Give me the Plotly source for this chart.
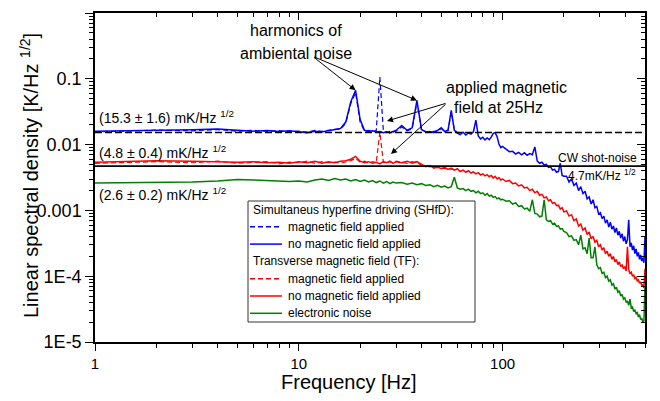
import math
import plotly.graph_objects as go

# ---------------- data (values in mK/Hz^1/2) ----------------
F1 = list(range(1, 31))          # 1 Hz bins
F2 = list(range(32, 101, 2))     # 2 Hz bins
F3 = list(range(104, 201, 4))    # 4 Hz bins
F4 = list(range(206, 501, 6))    # 6 Hz bins
FREQ = F1 + F2 + F3 + F4
FREQ_LOW = F1 + F2[:15]          # 1 .. 60 Hz

SHFD_NO_FIELD = [
    16.0, 16.3, 16.8, 17.2, 16.5, 16.0, 16.4, 15.8, 16.2, 15.6,
    15.2, 16.0, 15.5, 16.3, 16.8, 17.5, 22.0, 45.0, 67.0, 24.0,
    16.5, 15.8, 16.2, 15.5, 15.8, 15.2, 15.6, 15.0, 15.8, 16.4,
    19.5, 16.5, 18.0, 47.0, 17.0, 15.5, 15.8, 15.2, 16.5, 18.0,
    15.8, 16.5, 33.0, 16.5, 15.0, 14.2, 15.4, 14.0, 15.0, 14.4,
    15.8, 23.5, 13.5, 12.2, 12.9, 11.8, 12.6, 11.9, 13.0, 14.8,
    15.2, 13.2, 10.2, 9.0, 9.4,
    8.4, 7.8, 7.9, 7.2, 7.6, 7.0, 7.5, 6.9, 7.3, 7.0,
    9.2, 5.6, 5.2, 5.4, 4.9, 5.0, 4.5, 4.6, 4.1, 4.2,
    3.8, 3.9, 5.2, 3.4, 3.3,
    3.3, 2.7, 3.0, 2.4, 2.6, 2.0, 2.3, 1.8, 1.95, 1.5,
    1.6, 1.25, 1.45, 1.1, 1.15, 0.88, 0.92, 0.75, 0.82, 0.64,
    0.72, 0.56, 0.66, 0.52, 0.58, 0.46, 0.54, 0.42, 0.48, 0.38,
    0.44, 0.34, 0.40, 0.31, 0.36, 0.72, 0.28, 0.32, 0.25, 0.29,
    0.22, 0.26, 0.20, 0.23, 0.18, 0.21, 0.17, 0.19, 0.16, 0.40,
]

SHFD_FIELD = [
    15.6, 16.6, 16.2, 16.9, 16.0, 16.5, 15.9, 16.3, 15.7, 16.1,
    15.5, 16.4, 15.9, 16.6, 17.0, 17.2, 21.0, 42.0, 62.0, 22.0,
    16.0, 16.4, 15.8, 16.4, 106.0, 16.3, 15.4, 15.9, 15.5, 16.0,
    18.5, 16.2, 17.5, 44.0, 16.8, 15.8, 15.3, 15.9, 16.2, 17.5,
    16.0, 16.2, 31.0, 16.8, 15.2,
]

TF_NO_FIELD = [
    5.4, 5.7, 5.6, 5.5, 5.4, 5.5, 5.3, 5.4, 5.2, 5.5,
    5.3, 5.6, 5.2, 5.5, 5.3, 5.6, 5.7, 6.0, 6.6, 5.6,
    5.3, 5.5, 5.2, 5.4, 5.1, 5.5, 5.3, 5.6, 5.2, 5.5,
    5.3, 5.6, 5.2, 5.5, 5.0, 4.6, 4.8, 4.4, 4.6, 4.3,
    4.5, 4.2, 4.4, 4.1, 4.3, 3.9, 4.1, 3.8, 4.0, 3.7,
    3.85, 3.6, 3.75, 3.45, 3.6, 3.35, 3.5, 3.25, 3.4, 3.1,
    3.3, 3.0, 3.15, 2.9, 3.0,
    2.75, 2.85, 2.55, 2.6, 2.35, 2.45, 2.2, 2.25, 2.0, 2.1,
    1.85, 1.95, 1.7, 1.75, 1.55, 1.6, 1.4, 1.45, 1.28, 1.32,
    1.18, 1.2, 1.05, 1.1, 0.95,
    0.98, 0.82, 0.86, 0.70, 0.74, 0.58, 0.62, 0.50, 0.54, 0.43,
    0.47, 0.37, 0.40, 0.33, 0.35, 0.28, 0.30, 0.25, 0.27, 0.22,
    0.24, 0.20, 0.22, 0.18, 0.20, 0.165, 0.18, 0.15, 0.165, 0.14,
    0.15, 0.13, 0.14, 0.12, 0.28, 0.125, 0.11, 0.115, 0.10, 0.105,
    0.092, 0.096, 0.085, 0.088, 0.078, 0.082, 0.072, 0.075, 0.066, 0.13,
]

TF_FIELD = [
    5.2, 5.5, 5.3, 5.6, 5.2, 5.4, 5.5, 5.1, 5.4, 5.3,
    5.6, 5.2, 5.5, 5.3, 5.4, 5.2, 5.5, 5.7, 6.2, 5.4,
    5.6, 5.2, 5.5, 5.3, 15.5, 5.4, 5.2, 5.5, 5.3, 5.6,
    5.4, 5.2, 5.5, 5.3, 4.9, 4.7, 4.6, 4.5, 4.4, 4.4,
    4.3, 4.3, 4.2, 4.2, 4.1,
]

ELECTRONIC = [
    2.6, 2.65, 2.7, 2.8, 2.95, 2.9, 2.85, 2.8, 2.75, 2.8,
    2.7, 2.9, 3.0, 2.85, 3.05, 2.9, 3.0, 2.8, 2.95, 2.75,
    2.9, 2.7, 2.85, 2.65, 2.8, 2.6, 2.75, 2.55, 2.7, 2.6,
    2.65, 2.5, 2.6, 2.45, 2.55, 2.4, 2.45, 2.3, 2.4, 2.25,
    2.35, 2.2, 2.3, 3.2, 2.2, 2.1, 2.15, 2.0, 2.1, 1.95,
    2.0, 1.85, 1.95, 1.8, 1.85, 1.7, 1.8, 1.65, 1.7, 1.58,
    1.62, 1.5, 1.55, 1.45, 1.48,
    1.38, 1.4, 1.25, 1.3, 1.15, 1.18, 1.05, 1.08, 0.97, 1.45,
    0.9, 0.88, 0.8, 0.82, 1.45, 0.72, 0.68, 0.7, 0.62, 0.64,
    0.57, 0.58, 0.52, 0.53, 0.48,
    0.46, 0.40, 0.41, 0.35, 0.36, 0.30, 0.42, 0.26, 0.27, 0.22,
    0.38, 0.19, 0.19, 0.28, 0.15, 0.13, 0.135, 0.11, 0.115, 0.095,
    0.1, 0.084, 0.088, 0.073, 0.077, 0.064, 0.068, 0.057, 0.06, 0.05,
    0.053, 0.045, 0.047, 0.04, 0.042, 0.036, 0.045, 0.033, 0.034, 0.029,
    0.031, 0.027, 0.028, 0.024, 0.026, 0.022, 0.023, 0.02, 0.021, 0.07,
]

SHFD_LEVEL = 15.3      # mK/Hz^1/2, dashed reference
CW_SHOT_NOISE = 4.7    # mK/Hz^1/2, solid reference

X_TICKS = [1, 10, 100]
X_TICKTEXT = ["1", "10", "100"]
Y_TICKS = [1, 0.1, 0.01, 0.001, 1e-4, 1e-5]
Y_TICKTEXT = ["1", "0.1", "0.01", "0.001", "1E-4", "1E-5"]

LEGEND_ROWS = [
    ("title", "Simultaneus hyperfine driving (SHfD):", None, None),
    ("item", "magnetic field applied", "#0000FF", "5px,3px"),
    ("item", "no magnetic field applied", "#0000FF", "solid"),
    ("title", "Transverse magnetic field (TF):", None, None),
    ("item", "magnetic field applied", "#FF0000", "5px,3px"),
    ("item", "no magnetic field applied", "#FF0000", "solid"),
    ("item", "electronic noise", "#008000", "solid"),
]


def K(vals):
    return [v / 1000.0 for v in vals]


# ---------------- layout geometry ----------------
# the page shows the figure offset by the 8px body margin; positions below are
# screen positions, plot area on screen spans x 95..645, y 13..342
W, H = 660, 401
OFF = 8
SX0, SX1, SY0, SY1 = 95, 645, 13, 342
ML, MT = SX0 - OFF, SY0 - OFF
MR, MB = W - (SX1 - OFF), H - (SY1 - OFF)


def pxx(x):
    return (x - SX0) / (SX1 - SX0)


def pxy(y):
    return (SY1 - y) / (SY1 - SY0)


FONT = "Arial, Liberation Sans, sans-serif"
BLUE, RED, GREEN = "#0000FF", "#FF0000", "#008000"

fig = go.Figure()
fig.add_trace(go.Scatter(
    x=FREQ_LOW, y=K(SHFD_FIELD), mode="lines", name="SHfD: magnetic field applied",
    line=dict(color=BLUE, width=1.2, dash="5px,3px")))
fig.add_trace(go.Scatter(
    x=FREQ, y=K(SHFD_NO_FIELD), mode="lines", name="SHfD: no magnetic field applied",
    line=dict(color=BLUE, width=1.5)))
fig.add_trace(go.Scatter(
    x=FREQ_LOW, y=K(TF_FIELD), mode="lines", name="TF: magnetic field applied",
    line=dict(color=RED, width=1.2, dash="5px,3px")))
fig.add_trace(go.Scatter(
    x=FREQ, y=K(TF_NO_FIELD), mode="lines", name="TF: no magnetic field applied",
    line=dict(color=RED, width=1.5)))
fig.add_trace(go.Scatter(
    x=FREQ, y=K(ELECTRONIC), mode="lines", name="electronic noise",
    line=dict(color=GREEN, width=1.5)))
# reference levels drawn on the (identical) top/right axes so those axes render
fig.add_trace(go.Scatter(
    x=[FREQ[0], FREQ[-1]], y=K([SHFD_LEVEL, SHFD_LEVEL]), mode="lines",
    xaxis="x2", yaxis="y2", name="SHfD level",
    line=dict(color="black", width=1.5, dash="7px,3px")))
fig.add_trace(go.Scatter(
    x=[FREQ[0], FREQ[-1]], y=K([CW_SHOT_NOISE, CW_SHOT_NOISE]), mode="lines",
    xaxis="x2", yaxis="y2", name="CW shot-noise",
    line=dict(color="black", width=1.8)))

XMINOR = [m * 10 ** d for d in range(0, 3) for m in range(2, 10) if m * 10 ** d <= 500]
YMINOR = [m * 10.0 ** d for d in range(-5, 0) for m in range(2, 10)]
XR = [0, math.log10(FREQ[-1])]
YR = [-5, 0]

common = dict(type="log", showgrid=False, zeroline=False, automargin=False)
fig.update_layout(
    width=W, height=H,
    margin=dict(l=ML, r=MR, t=MT, b=MB, pad=0, autoexpand=False),
    paper_bgcolor="white", plot_bgcolor="white",
    font=dict(family=FONT, color="black"),
    showlegend=False,
    xaxis=dict(**common, range=XR, tickmode="array", tickvals=X_TICKS, ticktext=X_TICKTEXT,
               ticks="outside", ticklen=7, tickwidth=1.2, tickcolor="black",
               showline=True, linecolor="black", linewidth=1.5, mirror=True,
               tickfont=dict(size=15),
               minor=dict(tickmode="array", tickvals=XMINOR, ticks="outside", ticklen=4,
                          tickcolor="black", tickwidth=1, showgrid=False)),
    yaxis=dict(**common, range=YR, tickmode="array", tickvals=Y_TICKS, ticktext=Y_TICKTEXT,
               ticks="outside", ticklen=8, tickwidth=1.2, tickcolor="black",
               showline=True, linecolor="black", linewidth=1.5, mirror=True,
               tickfont=dict(size=18),
               minor=dict(tickmode="array", tickvals=YMINOR, ticks="outside", ticklen=4,
                          tickcolor="black", tickwidth=1, showgrid=False)),
    xaxis2=dict(**common, overlaying="x", side="top", anchor="y2", range=XR,
                tickmode="array", tickvals=X_TICKS, ticks="inside", ticklen=7,
                tickwidth=1.2, tickcolor="black", showticklabels=False, showline=False,
                minor=dict(tickmode="array", tickvals=XMINOR, ticks="inside", ticklen=4,
                           tickcolor="black", tickwidth=1, showgrid=False)),
    yaxis2=dict(**common, overlaying="y", side="right", anchor="x2", range=YR,
                tickmode="array", tickvals=Y_TICKS, ticks="inside", ticklen=8,
                tickwidth=1.2, tickcolor="black", showticklabels=False, showline=False,
                minor=dict(tickmode="array", tickvals=YMINOR, ticks="inside", ticklen=4,
                           tickcolor="black", tickwidth=1, showgrid=False)),
)

ann = []
shapes = []


def text(x, y, s, size, xa="center", angle=0):
    ann.append(dict(x=pxx(x), y=pxy(y), xref="paper", yref="paper", text=s,
                    showarrow=False, xanchor=xa, yanchor="middle", textangle=angle,
                    font=dict(size=size, family=FONT, color="black")))


# axis titles
text(349, 382, "Frequency [Hz]", 20)
text(29, 176, "Linear spectral density [K/Hz <sup>1/2</sup>]", 20, angle=-90)

text(296, 31, "harmonics of", 16)
text(296, 53, "ambiental noise", 16)
text(506, 88, "applied magnetic", 16)
text(498, 108, "field at 25Hz", 16)
text(97, 117, "(15.3 ± 1.6) mK/Hz <sup>1/2</sup>", 14, "left")
text(97, 151.5, "(4.8 ± 0.4) mK/Hz <sup>1/2</sup>", 14, "left")
text(97, 194, "(2.6 ± 0.2) mK/Hz <sup>1/2</sup>", 14, "left")
text(639, 158, "CW shot-noise", 12, "right")
text(566, 175, "4.7mK/Hz <sup>1/2</sup>", 12, "left")

# arrows to the ambient-noise harmonics (heads at the data peaks)
for f, ax, ay in [(19, -43, -34), (38, -104, -44)]:
    i = FREQ.index(f)
    ann.append(dict(x=math.log10(f), y=math.log10(SHFD_NO_FIELD[i] / 1000.0),
                    xref="x", yref="y", text="", showarrow=True, ax=ax, ay=ay,
                    arrowhead=2, arrowsize=1.2, arrowwidth=1, arrowcolor="black"))
# arrows from "applied magnetic field" label
for hx, hy, ax, ay in [(387, 121, 60, -18), (391, 154, 56, -51)]:
    ann.append(dict(x=pxx(hx), y=pxy(hy), xref="paper", yref="paper", text="",
                    showarrow=True, ax=ax, ay=ay, arrowhead=2, arrowsize=1.2,
                    arrowwidth=1, arrowcolor="black"))

# ---------------- legend box (drawn manually for Origin-like row spacing) ----------------
LX0, LX1, LY0, LY1 = 248, 475, 201, 322
shapes.append(dict(type="rect", xref="paper", yref="paper",
                   x0=pxx(LX0), x1=pxx(LX1), y0=pxy(LY1), y1=pxy(LY0),
                   line=dict(color="#333333", width=1), fillcolor="white", layer="above"))
row_y = LY0 + 8.5
for kind, label, color, dash in LEGEND_ROWS:
    if kind == "title":
        ann.append(dict(x=pxx(251), y=pxy(row_y), xref="paper", yref="paper", text=label,
                        showarrow=False, xanchor="left", yanchor="middle",
                        font=dict(size=12, family=FONT, color="black")))
    else:
        shapes.append(dict(type="line", xref="paper", yref="paper",
                           x0=pxx(250), x1=pxx(282), y0=pxy(row_y), y1=pxy(row_y),
                           line=dict(color=color, width=1.5, dash=dash), layer="above"))
        ann.append(dict(x=pxx(286), y=pxy(row_y), xref="paper", yref="paper", text=label,
                        showarrow=False, xanchor="left", yanchor="middle",
                        font=dict(size=12, family=FONT, color="black")))
    row_y += 17.3

fig.update_layout(annotations=ann, shapes=shapes)
fig.write_html("out.html")
